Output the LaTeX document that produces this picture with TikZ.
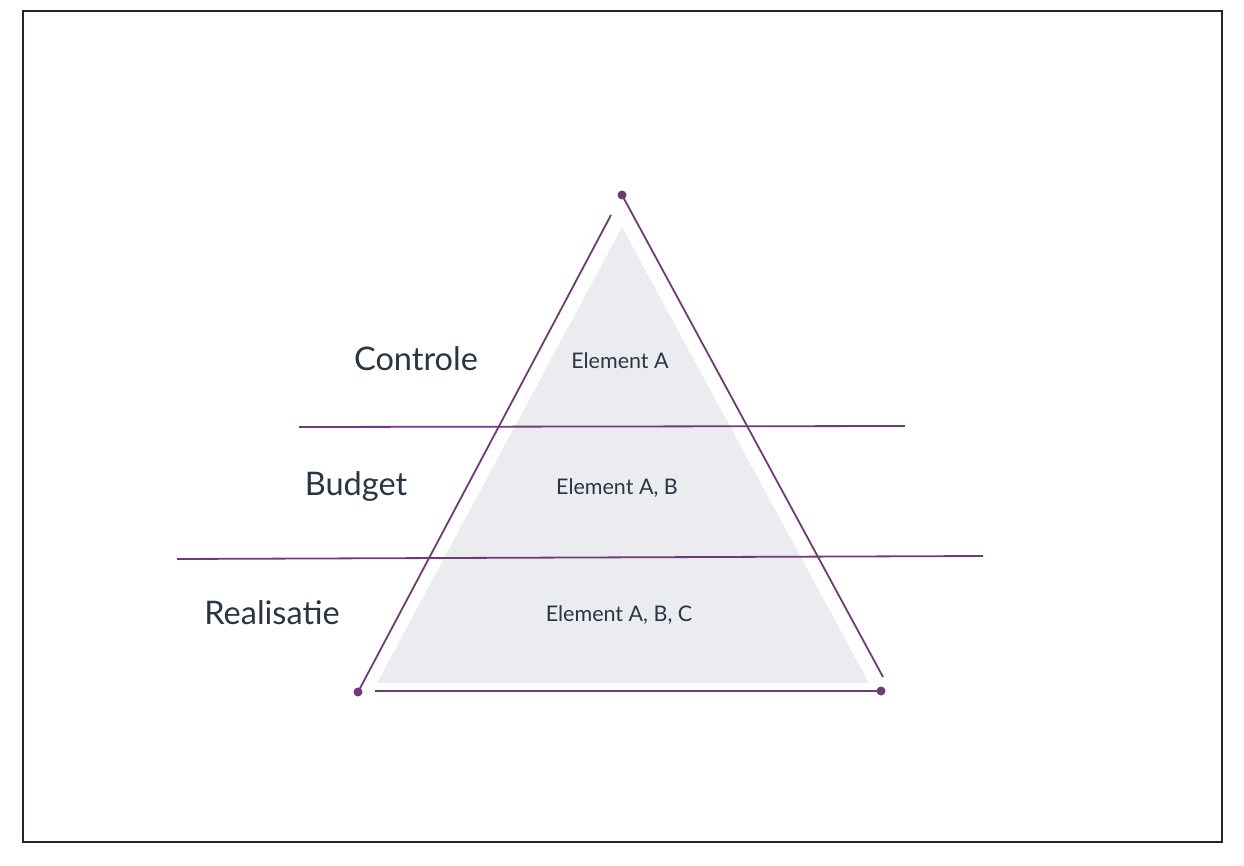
\documentclass[tikz,border=0pt]{standalone}
\usepackage{fontspec}
\setmainfont{Lato}
\usepackage{tikz}
\usetikzlibrary{positioning,calc}
\usepackage{xcolor}
\definecolor{plum}{HTML}{6F3B76}
\definecolor{slate}{HTML}{2B3445}
\definecolor{frame}{HTML}{22262F}
\definecolor{lightgrey}{HTML}{EBECF0}

\begin{document}
\begin{tikzpicture}[x=1pt, y=-1pt,
    dot/.style={circle, fill=plum, inner sep=0pt, minimum size=9pt},
    edge/.style={plum, line width=1.8pt},
    level/.style={font=\fontsize{32.5}{38}\selectfont, text=slate},
    elem/.style={font=\fontsize{21.5}{26}\selectfont, text=slate}]
  \useasboundingbox (0,0) rectangle (1244,866);
  \draw[frame, line width=2pt] (23,11) rectangle (1222,842);
  % grey pyramid
  \fill[lightgrey] (622,227) -- (377,683) -- (869,683) -- cycle;
  % corner dots
  \node[dot] (top) at (622,195) {};
  \node[dot] (left) at (358,692) {};
  \node[dot] (right) at (881,691) {};
  \coordinate (lefttip) at (611,215);
  \coordinate (rightend) at (883,677);
  \coordinate (basestart) at (375,691);
  \draw[edge] (left.center) -- (lefttip);
  \draw[edge] (top.center) -- (rightend);
  \draw[edge] (basestart) -- (right.center);
  % layer lines
  \coordinate (l1a) at (299,427);
  \coordinate (l1b) at (905,426);
  \coordinate (l2a) at (177,559);
  \coordinate (l2b) at (983,556);
  \draw[edge] (l1a) -- (l1b);
  \draw[edge] (l2a) -- (l2b);
  % labels
  \foreach \y/\lab/\x/\el/\ex in {359/Controle/416/{Element A}/620,
                                  486/Budget/356/{Element A, B}/617,
                                  613/Realisatie/272/{Element A, B, C}/619} {
    \node[level] (lv\lab) at (\x,\y) {\lab};
    \node[elem] (el\lab) at (\ex,\y+2) {\el};
  }
\end{tikzpicture}
\end{document}
